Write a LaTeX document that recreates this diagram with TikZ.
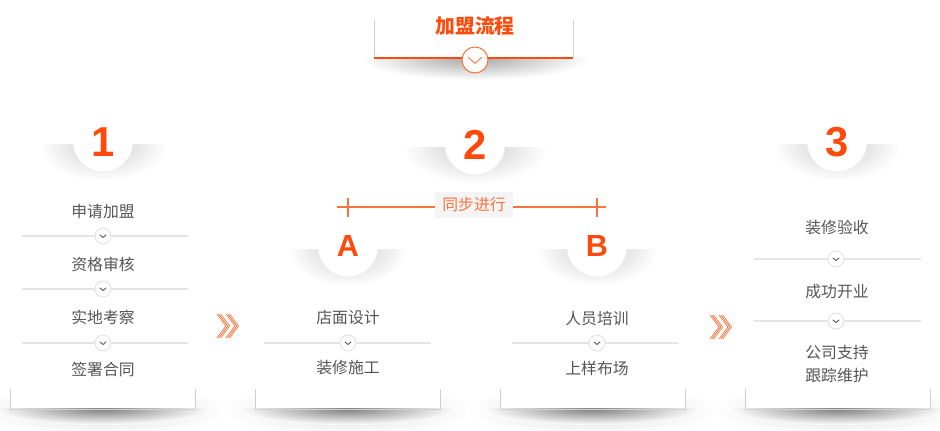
\documentclass[tikz,border=0pt]{standalone}
\usepackage{fontspec}
\newfontfamily\cjk{Noto Sans CJK SC}
\newfontfamily\numfont{Liberation Sans}
\usetikzlibrary{positioning}
\definecolor{mainred}{HTML}{FF4A0C}
\definecolor{lineorange}{HTML}{F7743F}
\definecolor{txtgray}{HTML}{555555}
\definecolor{linegray}{HTML}{E4E4E4}
\definecolor{boxgray}{HTML}{D0D0D0}
\definecolor{tagbg}{HTML}{F4F4F4}

\begin{document}
\begin{tikzpicture}[
        x=0.02cm, y=-0.02cm,
        node distance=1.05cm,
        item/.style={font=\cjk\fontsize{9}{13}\selectfont, text=txtgray, inner sep=1pt, align=center},
        numlabel/.style={font=\numfont\bfseries\fontsize{23.8}{24}\selectfont, text=mainred},
        letlabel/.style={font=\numfont\bfseries\fontsize{17.4}{18}\selectfont, text=mainred},
        sepline/.style={draw=linegray, line width=0.6pt},
        downdot/.style={circle, draw=linegray, fill=white, line width=0.6pt, minimum size=0.32cm, inner sep=0pt},
        chev/.style={draw=#1, line width=0.5pt, line cap=round, line join=round},
        boxside/.style={draw=boxgray, line width=0.5pt},
        sync/.style={draw=lineorange, line width=0.7pt}
    ]
        \useasboundingbox (0,0) rectangle (940,431);

        % title
        \begin{scope}
            \clip (360,58) rectangle (590,90);
            \shade[inner color=black!35, outer color=white] (475,58) ellipse [x radius=115, y radius=22];
        \end{scope}
        \draw[boxside] (374,20) -- (374,58);
        \draw[boxside] (573,20) -- (573,58);
        \draw[draw=mainred, line width=1.6pt] (374,58) -- (573,58);
        \node[font=\cjk\bfseries\fontsize{11.3}{13}\selectfont, text=mainred] (title) at (475,26) {加盟流程};
        \node[circle, draw=lineorange, fill=white, line width=0.6pt, minimum size=0.52cm, inner sep=0pt] (titledot) at (475,60) {};
        \draw[chev=lineorange] ([xshift=-0.13cm,yshift=0.05cm]titledot.center) -- ([yshift=-0.07cm]titledot.center) -- ([xshift=0.13cm,yshift=0.05cm]titledot.center);

        % step heads
        \foreach \cx/\cy/\bw in {103/142/64, 475/145/72, 837/142/64, 348/247/60, 597/247/60} {
            \begin{scope}
                \clip (\cx-90,\cy+3) rectangle (\cx+90,\cy+50);
                \shade[inner color=black!20, outer color=white] (\cx,\cy+3) ellipse [x radius=\bw, y radius=36];
                \draw[draw=black!7, fill=white] (\cx,\cy) circle [radius=30];
            \end{scope}
        }
        \node[numlabel] (n1) at (103,142) {1};
        \node[numlabel] (n2) at (475,145) {2};
        \node[numlabel] (n3) at (837,142) {3};
        \node[letlabel] (na) at (348,246) {A};
        \node[letlabel] (nb) at (597,246) {B};

        % boxes
        \foreach \xl/\xr in {10/195, 255/440, 500/685, 745/930} {
            \begin{scope}
                \clip (\xl-40,390) rectangle (\xr+40,431);
                \shade[inner color=black!14, outer color=white] ({(\xl+\xr)/2},410) ellipse [x radius=125, y radius=26];
            \end{scope}
            \fill[white] (\xl,389) rectangle (\xr,409);
            \begin{scope}
                \clip (\xl-20,409) rectangle (\xr+20,431);
                \shade[inner color=black!50, outer color=white] ({(\xl+\xr)/2},409) ellipse [x radius=110, y radius=16];
            \end{scope}
            \draw[boxside] (\xl,389) -- (\xl,409) -- (\xr,409) -- (\xr,389);
        }

        % separators
        \draw[sepline] (22,236) -- (188,236);
        \draw[sepline] (22,289) -- (188,289);
        \draw[sepline] (22,343) -- (188,343);
        \draw[sepline] (264,343) -- (431,343);
        \draw[sepline] (512,343) -- (678,343);
        \draw[sepline] (754,259) -- (921,259);
        \draw[sepline] (754,321) -- (921,321);
        \node[downdot] (d1a) at (103,236) {};
        \node[downdot] (d1b) at (103,289) {};
        \node[downdot] (d1c) at (103,343) {};
        \node[downdot] (dAa) at (348,343) {};
        \node[downdot] (dBa) at (597,343) {};
        \node[downdot] (d3a) at (836,259) {};
        \node[downdot] (d3b) at (836,321) {};
        \foreach \d in {d1a,d1b,d1c,dAa,dBa,d3a,d3b}
            \draw[chev=txtgray] ([xshift=-0.06cm,yshift=0.02cm]\d.center) -- ([yshift=-0.03cm]\d.center) -- ([xshift=0.06cm,yshift=0.02cm]\d.center);

        % column 1
        \node[item] (s1a) at (103,212) {申请加盟};
        \node[item, below of=s1a] (s1b) {资格审核};
        \node[item, below of=s1b] (s1c) {实地考察};
        \node[item, below of=s1c] (s1d) {签署合同};

        % column A and B
        \node[item] (sAa) at (348,318) {店面设计};
        \node[item, below of=sAa, yshift=0.05cm] (sAb) {装修施工};
        \node[item] (sBa) at (597,318) {人员培训};
        \node[item, below of=sBa, yshift=0.05cm] (sBb) {上样布场};

        % column 3
        \node[item] (s3a) at (837,227) {装修验收};
        \node[item] (s3b) at (837,292) {成功开业};
        \node[item] (s3c) at (837,364) {公司支持\\跟踪维护};

        % sync bar
        \coordinate (syncl) at (337,207);
        \coordinate (syncr) at (606,207);
        \node[font=\cjk\fontsize{9}{11}\selectfont, text=lineorange, fill=tagbg, minimum width=1.56cm, minimum height=0.52cm, inner sep=0pt] (sync) at (474,205) {同步进行};
        \draw[sync] (syncl) -- (syncl -| sync.west);
        \draw[sync] (syncr -| sync.east) -- (syncr);
        \draw[sync] (348,198) -- (348,217);
        \draw[sync] (597,198) -- (597,217);

        % next arrows
        \foreach \ax/\ay in {217/326, 710/327}
            \foreach \o in {0,1.8,3.6,9,10.8,12.6}
                \draw[draw=lineorange, line width=0.4pt] (\ax+\o,\ay-12) -- (\ax+\o+9,\ay) -- (\ax+\o,\ay+12);
    \end{tikzpicture}
\end{document}
